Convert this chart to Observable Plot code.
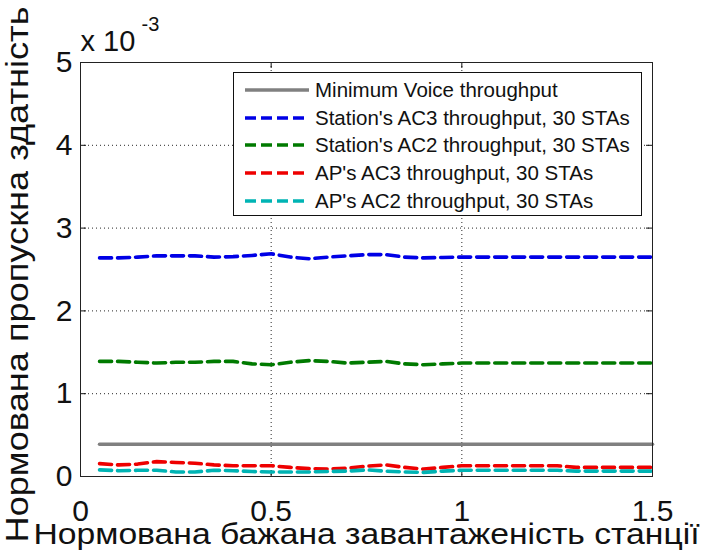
<!DOCTYPE html>
<html>
<head>
<meta charset="utf-8">
<script src="https://cdn.jsdelivr.net/npm/d3@7"></script>
<script src="https://cdn.jsdelivr.net/npm/@observablehq/plot@0.6"></script>
<style>
  html, body { margin: 0; padding: 0; background: #fff; }
  #chart { position: relative; width: 704px; height: 555px; font-family: "Liberation Sans", Arial, sans-serif; }
  #legend {
    position: absolute; left: 233px; top: 72px; width: 409px; height: 144px;
    box-sizing: border-box; border: 1px solid #111; background: #fff;
    padding-top: 3px;
  }
  .row { display: flex; align-items: center; height: 27.8px; font-size: 20.5px; color: #111; white-space: nowrap; }
  .row svg { margin-left: 11px; margin-right: 6px; flex: none; }
</style>
</head>
<body>
<div id="chart"></div>
<script>
// Normalised offered load per station
const load = [0.05, 0.10, 0.15, 0.20, 0.25, 0.30, 0.35, 0.40, 0.45, 0.50,
              0.55, 0.60, 0.65, 0.70, 0.75, 0.80, 0.85, 0.90, 0.95, 1.00,
              1.05, 1.10, 1.15, 1.20, 1.25, 1.30, 1.35, 1.40, 1.45, 1.50];

// Normalised throughput, in units of 10^-3
const minVoiceLoad = [0.05, 1.50];
const minVoice     = [0.39, 0.39];

const staAC3 = [2.64, 2.64, 2.65, 2.665, 2.665, 2.665, 2.65, 2.655, 2.67, 2.69,
                2.65, 2.63, 2.65, 2.665, 2.68, 2.68, 2.65, 2.64, 2.645, 2.65,
                2.65, 2.65, 2.65, 2.65, 2.65, 2.65, 2.65, 2.65, 2.65, 2.65];

const staAC2 = [1.39, 1.39, 1.38, 1.37, 1.38, 1.38, 1.39, 1.39, 1.36, 1.35,
                1.38, 1.40, 1.39, 1.37, 1.38, 1.39, 1.36, 1.35, 1.36, 1.37,
                1.37, 1.37, 1.37, 1.37, 1.37, 1.37, 1.37, 1.37, 1.37, 1.37];

const apAC3 = [0.155, 0.14, 0.15, 0.18, 0.17, 0.16, 0.14, 0.13, 0.13, 0.13,
               0.11, 0.095, 0.09, 0.10, 0.125, 0.14, 0.11, 0.09, 0.11, 0.13,
               0.13, 0.13, 0.13, 0.13, 0.13, 0.11, 0.11, 0.11, 0.11, 0.11];

const apAC2 = [0.08, 0.07, 0.075, 0.075, 0.055, 0.055, 0.075, 0.07, 0.06, 0.055,
               0.055, 0.055, 0.06, 0.065, 0.08, 0.065, 0.055, 0.05, 0.065, 0.075,
               0.075, 0.075, 0.075, 0.075, 0.075, 0.065, 0.065, 0.065, 0.065, 0.065];

const seriesNames = [
  "Minimum Voice throughput",
  "Station's AC3 throughput, 30 STAs",
  "Station's AC2 throughput, 30 STAs",
  "AP's AC3 throughput, 30 STAs",
  "AP's AC2 throughput, 30 STAs"
];
const seriesColors = ["#808080", "#0000e6", "#007a00", "#ee0000", "#00b4b4"];

const xTicks = [0, 0.5, 1, 1.5];
const yTicks = [0, 1, 2, 3, 4, 5];
const xGrid = [0.5, 1];
const yGrid = [1, 2, 3, 4];

const xTitle = "Нормована бажана завантаженість станції";
const yTitle = "Нормована пропускна здатність";

const rows = (xsArr, ys) => xsArr.map((x, i) => ({x, y: ys[i]}));
const font = "Liberation Sans, Arial, sans-serif";
const dash = "12,6";
const lw = 3.6;

const innerH = 555 - 62 - 79;
const innerW = 704 - 80 - 52;

const plot = Plot.plot({
  width: 704,
  height: 555,
  marginTop: 62,
  marginLeft: 80,
  marginRight: 52,
  marginBottom: 79,
  style: {fontFamily: font, background: "#fff", color: "#111"},
  x: {domain: [0, 1.5]},
  y: {domain: [0, 5]},
  marks: [
    Plot.gridX(xGrid, {stroke: "#000", strokeOpacity: 0.85, strokeDasharray: "1,3"}),
    Plot.gridY(yGrid, {stroke: "#000", strokeOpacity: 0.85, strokeDasharray: "1,3"}),
    // inward ticks on all four sides
    Plot.tickX(xTicks, {x: d => d, insetTop: innerH - 6, stroke: "#111"}),
    Plot.tickX(xTicks, {x: d => d, insetBottom: innerH - 6, stroke: "#111"}),
    Plot.tickY(yTicks, {y: d => d, insetRight: innerW - 6, stroke: "#111"}),
    Plot.tickY(yTicks, {y: d => d, insetLeft: innerW - 6, stroke: "#111"}),
    Plot.axisX(xTicks, {tickSize: 0, tickPadding: 23, fontSize: 30, tickFormat: d => String(d), label: null}),
    Plot.axisY(yTicks, {tickSize: 0, tickPadding: 8, fontSize: 30, tickFormat: d => String(d), label: null}),
    Plot.lineY(rows(minVoiceLoad, minVoice), {x: "x", y: "y", stroke: seriesColors[0], strokeWidth: lw}),
    Plot.lineY(rows(load, staAC3), {x: "x", y: "y", stroke: seriesColors[1], strokeWidth: lw, strokeDasharray: dash}),
    Plot.lineY(rows(load, staAC2), {x: "x", y: "y", stroke: seriesColors[2], strokeWidth: lw, strokeDasharray: dash}),
    Plot.lineY(rows(load, apAC3), {x: "x", y: "y", stroke: seriesColors[3], strokeWidth: lw, strokeDasharray: dash}),
    Plot.lineY(rows(load, apAC2), {x: "x", y: "y", stroke: seriesColors[4], strokeWidth: lw, strokeDasharray: dash}),
    Plot.frame({stroke: "#222", strokeWidth: 1}),
    // exponent note above the y axis
    Plot.text(["x 10"], {frameAnchor: "top-left", textAnchor: "start", lineAnchor: "middle", dx: 0, dy: -21, fontSize: 29, fill: "#111"}),
    Plot.text(["-3"], {frameAnchor: "top-left", textAnchor: "start", lineAnchor: "middle", dx: 61, dy: -38, fontSize: 20, fill: "#111"}),
    // axis titles
    Plot.text([xTitle], {frameAnchor: "bottom", textAnchor: "middle", lineAnchor: "middle", dx: 0, dy: 58, fontSize: 30, fill: "#111"}),
    Plot.text([yTitle], {frameAnchor: "left", textAnchor: "middle", lineAnchor: "middle", rotate: -90, dx: -62, dy: 5, fontSize: 31, fill: "#111"})
  ]
});

// widen the axis titles to their full span
const titleSpan = new Map([[xTitle, 666], [yTitle, 536]]);
d3.select(plot).selectAll("text").each(function() {
  const span = titleSpan.get(this.textContent);
  if (span) d3.select(this).attr("textLength", span).attr("lengthAdjust", "spacingAndGlyphs");
});

const chart = document.getElementById("chart");
chart.appendChild(plot);

// legend box drawn over the upper-right part of the frame
const legend = document.createElement("div");
legend.id = "legend";
seriesNames.forEach((name, i) => {
  const row = document.createElement("div");
  row.className = "row";
  const dashAttr = i === 0 ? "" : ` stroke-dasharray="11,5"`;
  row.innerHTML = `<svg width="64" height="8"><line x1="0" y1="4" x2="64" y2="4" stroke="${seriesColors[i]}" stroke-width="3.5"${dashAttr}/></svg><span>${name}</span>`;
  legend.appendChild(row);
});
chart.appendChild(legend);
</script>
</body>
</html>
